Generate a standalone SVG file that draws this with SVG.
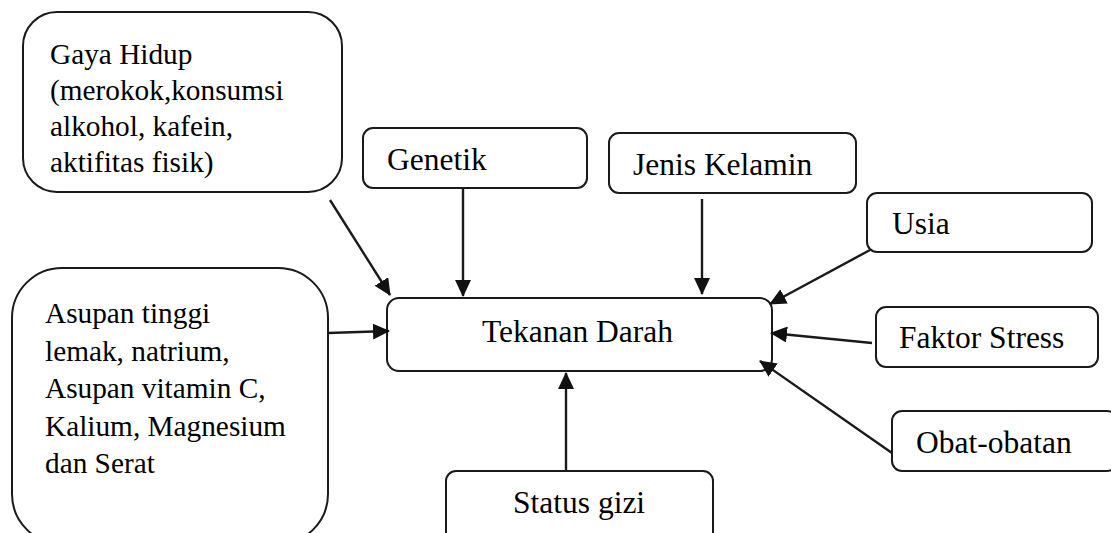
<svg xmlns="http://www.w3.org/2000/svg" width="1111" height="533" viewBox="0 0 1111 533">
<style>
.box{fill:#fff;stroke:#1a1a1a;stroke-width:2}
text{font-family:'Liberation Serif','DejaVu Serif',serif;font-size:31.5px;fill:#000}
.s{font-size:29.3px}
.c{stroke:#1a1a1a;stroke-width:2.4;fill:none;marker-end:url(#ah)}
</style>
<defs>
<marker id="ah" markerUnits="userSpaceOnUse" markerWidth="17" markerHeight="16" viewBox="0 0 17 16" refX="16" refY="8" orient="auto">
<path d="M0,0 L17,8 L0,16 Z" fill="#111"/>
</marker>
</defs>
<rect width="1111" height="533" fill="#fff"/>
<g id="gaya-hidup" font-family="Liberation Serif, serif">
<rect class="box" x="23" y="12" width="319" height="180" rx="34"/>
<text class="s" x="50" y="64">Gaya Hidup</text>
<text class="s" x="50" y="100">(merokok,konsumsi</text>
<text class="s" x="50" y="136">alkohol, kafein,</text>
<text class="s" x="50" y="172">aktifitas fisik)</text>
</g>
<g id="genetik">
<rect class="box" x="363" y="128" width="224" height="60" rx="10"/>
<text x="387" y="170">Genetik</text>
</g>
<g id="jenis-kelamin">
<rect class="box" x="609" y="133" width="247" height="60" rx="10"/>
<text x="633" y="175">Jenis Kelamin</text>
</g>
<g id="usia">
<rect class="box" x="867" y="193" width="225" height="59" rx="10"/>
<text x="892" y="234">Usia</text>
</g>
<g id="asupan">
<rect class="box" x="12" y="268" width="316" height="276" rx="50"/>
<text class="s" x="45" y="323">Asupan tinggi</text>
<text class="s" x="45" y="361">lemak, natrium,</text>
<text class="s" x="45" y="398">Asupan vitamin C,</text>
<text class="s" x="45" y="436">Kalium, Magnesium</text>
<text class="s" x="45" y="473">dan Serat</text>
</g>
<g id="tekanan-darah">
<rect class="box" x="387" y="298" width="385" height="73" rx="12"/>
<text x="482" y="342">Tekanan Darah</text>
</g>
<g id="faktor-stress">
<rect class="box" x="876" y="307" width="222" height="60" rx="10"/>
<text x="899" y="348">Faktor Stress</text>
</g>
<g id="obat-obatan">
<rect class="box" x="892" y="411" width="225" height="60" rx="10"/>
<text x="916" y="453">Obat-obatan</text>
</g>
<g id="status-gizi">
<rect class="box" x="446" y="471" width="267" height="80" rx="10"/>
<text x="513" y="513">Status gizi</text>
</g>
<g id="connectors">
<line class="c" x1="330" y1="200" x2="390" y2="295"/>
<line class="c" x1="463" y1="188" x2="463" y2="296"/>
<line class="c" x1="702" y1="199" x2="702" y2="294"/>
<line class="c" x1="870" y1="250" x2="770" y2="304"/>
<line class="c" x1="328" y1="333" x2="389" y2="331"/>
<line class="c" x1="872" y1="343" x2="771" y2="333"/>
<line class="c" x1="892" y1="453" x2="760" y2="361"/>
<line class="c" x1="566" y1="471" x2="566" y2="373"/>
</g>
</svg>
